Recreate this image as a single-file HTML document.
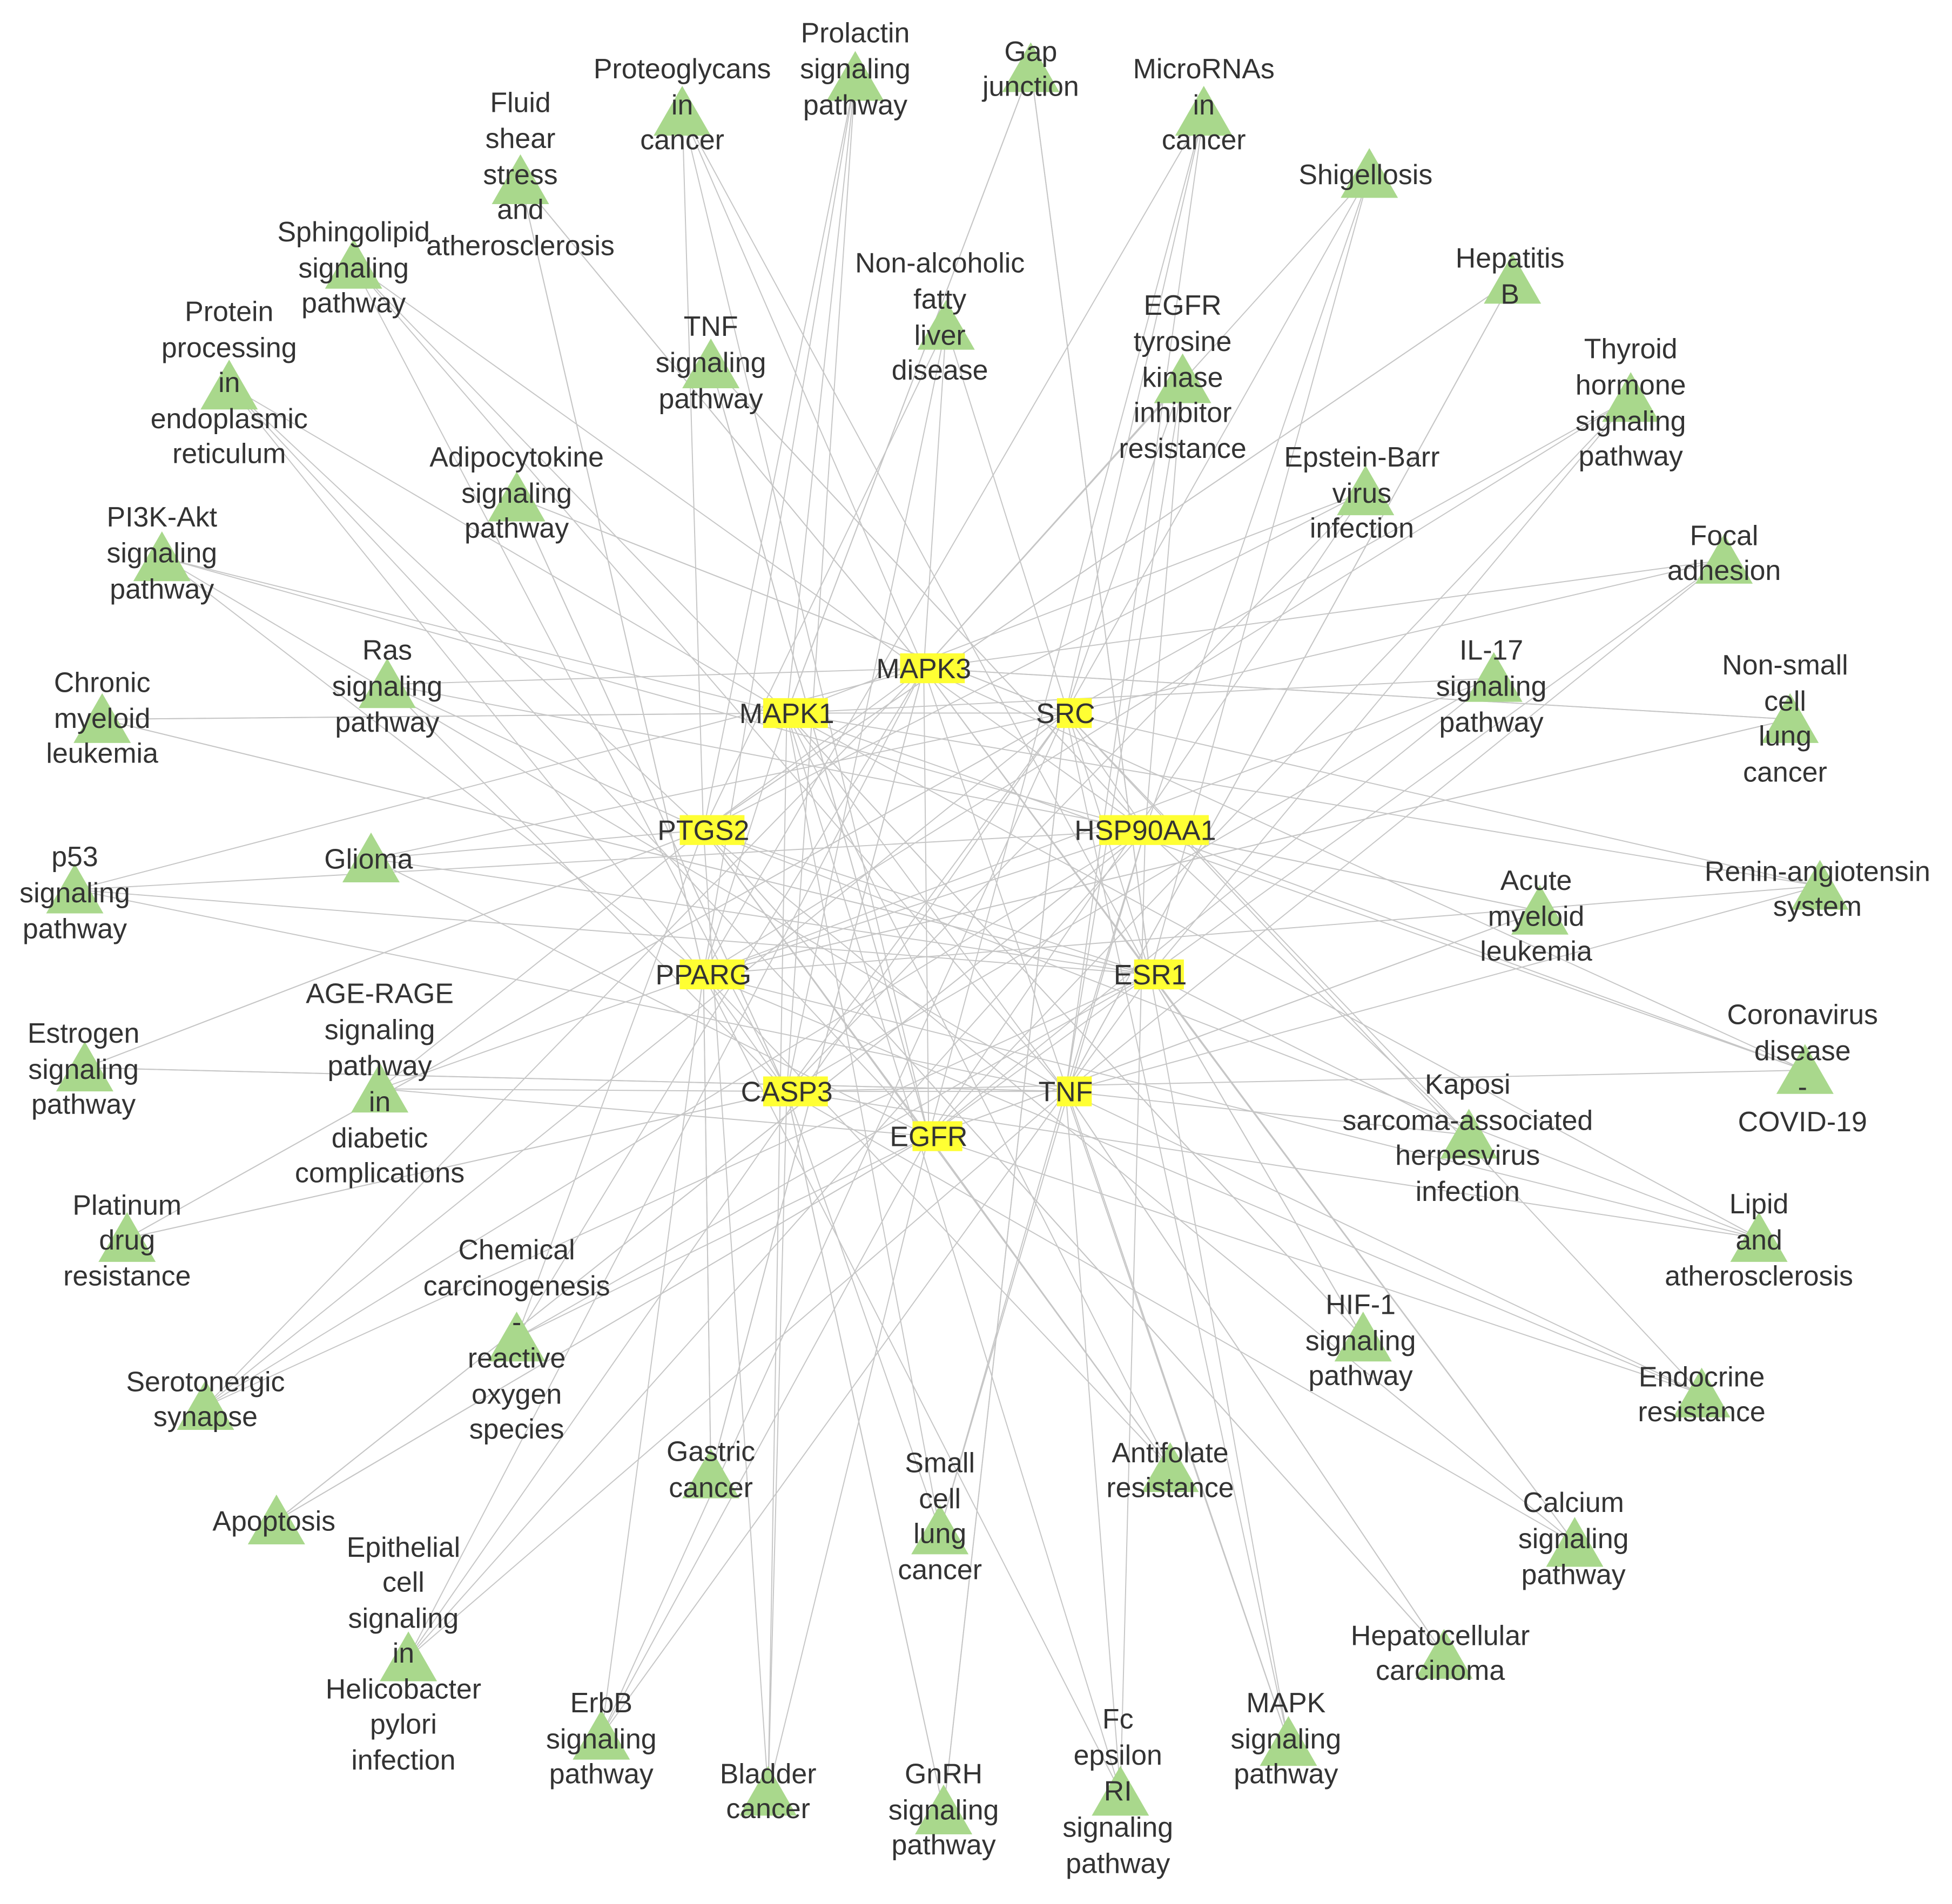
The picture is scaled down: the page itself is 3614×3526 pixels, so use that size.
<!DOCTYPE html>
<html><head><meta charset="utf-8">
<style>
html,body{margin:0;padding:0;background:#fff;}
svg{display:block;}
text{font-family:"Liberation Sans",Arial,sans-serif;font-size:22.5px;fill:#333;text-anchor:middle;}
</style></head>
<body>
<svg id="s" width="3614" height="3526" viewBox="0 0 1568 1530" xmlns="http://www.w3.org/2000/svg">
<rect width="1568" height="1530" fill="#fff"/>
<g id="edges" stroke="#c6c6c6" stroke-width="0.85" fill="none"></g>
<g id="tris" fill="#a9d88c"></g>
<g id="labels"></g>
<g id="genes"></g>
</svg>
<script>
var genes=[["MAPK3",742,537],["MAPK1",632,573],["SRC",856,573],["PTGS2",565,667],["HSP90AA1",920,667],["PPARG",565,783],["ESR1",924,783],["CASP3",632,877],["TNF",856,877],["EGFR",746,913]];
var P=[
[548,90,548,[["Proteoglycans",55],["in",84],["cancer",112]]],
[687,62,687,[["Prolactin",26],["signaling",55],["pathway",84]]],
[828,55,828,[["Gap",41],["junction",69]]],
[967,90,967,[["MicroRNAs",55],["in",84],["cancer",112]]],
[1100,140,1097,[["Shigellosis",140]]],
[418,145,418,[["Fluid",82],["shear",111],["stress",140],["and",168],["atherosclerosis",197]]],
[284,213,284,[["Sphingolipid",186],["signaling",215],["pathway",243]]],
[184,310,184,[["Protein",250],["processing",279],["in",307],["endoplasmic",336],["reticulum",364]]],
[571,293,571,[["TNF",262],["signaling",291],["pathway",320]]],
[760,262,755,[["Non-alcoholic",211],["fatty",240],["liver",269],["disease",297]]],
[950,305,950,[["EGFR",245],["tyrosine",274],["kinase",303],["inhibitor",331],["resistance",360]]],
[1215,225,1213,[["Hepatitis",207],["B",236]]],
[1310,320,1310,[["Thyroid",280],["hormone",309],["signaling",338],["pathway",366]]],
[1097,395,1094,[["Epstein-Barr",367],["virus",396],["infection",424]]],
[415,400,415,[["Adipocytokine",367],["signaling",396],["pathway",424]]],
[130,448,130,[["PI3K-Akt",415],["signaling",444],["pathway",473]]],
[1385,450,1385,[["Focal",430],["adhesion",458]]],
[82,578,82,[["Chronic",548],["myeloid",577],["leukemia",605]]],
[311,550,311,[["Ras",522],["signaling",551],["pathway",580]]],
[1200,545,1198,[["IL-17",522],["signaling",551],["pathway",580]]],
[1438,578,1434,[["Non-small",534],["cell",563],["lung",591],["cancer",620]]],
[298,690,296,[["Glioma",690]]],
[60,715,60,[["p53",688],["signaling",717],["pathway",746]]],
[1237,732,1234,[["Acute",707],["myeloid",736],["leukemia",764]]],
[1462,712,1460,[["Renin-angiotensin",700],["system",728]]],
[305,875,305,[["AGE-RAGE",798],["signaling",827],["pathway",856],["in",885],["diabetic",914],["complications",942]]],
[68,858,67,[["Estrogen",830],["signaling",859],["pathway",887]]],
[1450,860,1448,[["Coronavirus",815],["disease",844],["-",873],["COVID-19",901]]],
[1180,912,1179,[["Kaposi",871],["sarcoma-associated",900],["herpesvirus",928],["infection",957]]],
[102,995,102,[["Platinum",968],["drug",996],["resistance",1025]]],
[415,1075,415,[["Chemical",1004],["carcinogenesis",1033],["-",1062],["reactive",1091],["oxygen",1120],["species",1148]]],
[1413,995,1413,[["Lipid",967],["and",996],["atherosclerosis",1025]]],
[1095,1075,1093,[["HIF-1",1048],["signaling",1077],["pathway",1105]]],
[1367,1120,1367,[["Endocrine",1106],["resistance",1134]]],
[165,1130,165,[["Serotonergic",1110],["synapse",1138]]],
[571,1185,571,[["Gastric",1166],["cancer",1195]]],
[755,1230,755,[["Small",1175],["cell",1204],["lung",1232],["cancer",1261]]],
[940,1180,940,[["Antifolate",1167],["resistance",1195]]],
[222,1222,220,[["Apoptosis",1222]]],
[1265,1240,1264,[["Calcium",1207],["signaling",1236],["pathway",1265]]],
[328,1332,324,[["Epithelial",1243],["cell",1271],["signaling",1300],["in",1328],["Helicobacter",1357],["pylori",1385],["infection",1414]]],
[1160,1330,1157,[["Hepatocellular",1314],["carcinoma",1342]]],
[483,1395,483,[["ErbB",1368],["signaling",1397],["pathway",1425]]],
[617,1440,617,[["Bladder",1425],["cancer",1453]]],
[758,1455,758,[["GnRH",1425],["signaling",1454],["pathway",1482]]],
[900,1440,898,[["Fc",1381],["epsilon",1410],["RI",1439],["signaling",1468],["pathway",1497]]],
[1035,1400,1033,[["MAPK",1368],["signaling",1397],["pathway",1425]]]
];
var NS="http://www.w3.org/2000/svg";
function el(t,a,p){var e=document.createElementNS(NS,t);for(var k in a)e.setAttribute(k,a[k]);p.appendChild(e);return e;}
var E=document.getElementById("edges"),T=document.getElementById("tris"),L=document.getElementById("labels"),G=document.getElementById("genes");
for(var i=0;i<P.length;i++){
  var p=P[i];
  for(var j=0;j<4;j++){
    var g=genes[(i*3+j*(i%3+2)+j)%10];
    el("line",{x1:p[0],y1:p[1],x2:g[1],y2:g[2]},E);
  }
  el("polygon",{points:(p[0])+","+(p[1]-21)+" "+(p[0]-23)+","+(p[1]+19)+" "+(p[0]+23)+","+(p[1]+19)},T);
  for(var k=0;k<p[3].length;k++){
    var t=el("text",{x:p[2],y:p[3][k][1]+8},L);t.textContent=p[3][k][0];
  }
}
for(var a=0;a<10;a++)for(var b=a+1;b<10;b++){
  if((a*7+b)%3==0) el("line",{x1:genes[a][1],y1:genes[a][2],x2:genes[b][1],y2:genes[b][2]},E);
}
for(var i=0;i<genes.length;i++){
  var g=genes[i];var w=g[0].length*12;
  el("rect",{x:g[1]-w/2+11,y:g[2]-12,width:w-8,height:24,fill:"#ffff33"},G);
  var t=el("text",{x:g[1],y:g[2]+8},G);t.textContent=g[0];
}
</script>
</body></html>
